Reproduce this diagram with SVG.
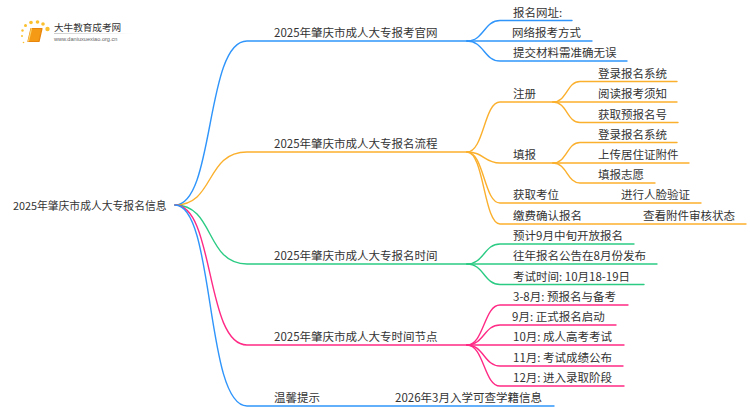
<svg xmlns="http://www.w3.org/2000/svg" width="750" height="410" viewBox="0 0 750 410">
<style>
text{font-family:"Noto Sans CJK SC","Noto Sans",sans-serif;font-size:11.5px;fill:#333}
path{fill:none;stroke-width:1.4;stroke-linecap:round}
.b{stroke:#2f95fb}.o{stroke:#fbb02d}.g{stroke:#2bcb84}.p{stroke:#ff2a85}
.dot{fill:#fbc02d}
</style>
<defs><linearGradient id="fade"><stop offset="0" stop-color="#ccc"/><stop offset="1" stop-color="#fff"/></linearGradient></defs>
<rect width="750" height="410" fill="#fff"/>
<g id="logo">
<circle class="dot" cx="23.500" cy="42.500" r="0.800"/><circle class="dot" cx="22" cy="36" r="1"/><circle class="dot" cx="22.500" cy="30.500" r="1.200"/><circle class="dot" cx="25.500" cy="25.500" r="1.500"/><circle class="dot" cx="31" cy="22.500" r="1.800"/><circle class="dot" cx="37.500" cy="22" r="1.800"/><circle class="dot" cx="43" cy="24" r="1.800"/><circle class="dot" cx="47.500" cy="29" r="2.200"/>
<path d="M31 28.500H42L39 41.500H28Z" style="fill:#f59a14;stroke:#e8850c;stroke-width:1.200;stroke-linejoin:round"/>
<path d="M28.500 41L31.500 28.500" style="stroke:#fbd36a;stroke-width:1.200"/>
<rect x="54" y="33" width="78" height="1" fill="url(#fade)"/>
<text x="54" y="31" style="font-size:9.600px">大牛教育成考网</text>
<text x="54" y="41" style="font-size:5.600px;fill:#666;font-family:'Liberation Sans',sans-serif">www.daniuxuexiao.org.cn</text>
</g>
<g id="connectors">
<path class="b" d="M175 205C215 205 205 41 247 41H467"/>
<path class="o" d="M175 205C215 205 205 152 247 152H467"/>
<path class="g" d="M175 205C215 205 205 264 247 264H467"/>
<path class="p" d="M175 205C215 205 205 345 247 345H467"/>
<path class="b" d="M175 205C215 205 205 406 247 406H554"/>
<path class="b" d="M467 41C484 41 484 20.500 500 20.500H572"/>
<path class="b" d="M467 41H592"/>
<path class="b" d="M467 41C484 41 484 61 500 61H627"/>
<path class="o" d="M467 152C484 152 484 102 500 102H553"/>
<path class="o" d="M467 152C484 152 484 163 500 163H553"/>
<path class="o" d="M467 152C484 152 484 203 500 203H701"/>
<path class="o" d="M467 152C484 152 484 224 500 224H746"/>
<path class="o" d="M553 102C567 102 567 81.500 580 81.500H677"/>
<path class="o" d="M553 102H677"/>
<path class="o" d="M553 102C567 102 567 122.500 580 122.500H678"/>
<path class="o" d="M553 163C567 163 567 142.500 580 142.500H677"/>
<path class="o" d="M553 163H689"/>
<path class="o" d="M553 163C567 163 567 183 580 183H655"/>
<path class="g" d="M467 264C484 264 484 244 500 244H634"/>
<path class="g" d="M467 264H657"/>
<path class="g" d="M467 264C484 264 484 284.500 500 284.500H644"/>
<path class="p" d="M467 345C484 345 484 305 500 305H628"/>
<path class="p" d="M467 345C484 345 484 325 500 325H616"/>
<path class="p" d="M467 345H624"/>
<path class="p" d="M467 345C484 345 484 366 500 366H623"/>
<path class="p" d="M467 345C484 345 484 386 500 386H624"/>
</g>
<g id="root"><text x="13" y="209.500" style="font-size:10.800px">2025年肇庆市成人大专报名信息</text></g>
<g id="n1"><text x="274" y="36.500">2025年肇庆市成人大专报考官网</text></g>
<g id="n1a"><text x="513" y="16.500">报名网址:</text></g>
<g id="n1b"><text x="512" y="37">网络报考方式</text></g>
<g id="n1c"><text x="513" y="57">提交材料需准确无误</text></g>
<g id="n2"><text x="274" y="148">2025年肇庆市成人大专报名流程</text></g>
<g id="n2a"><text x="513" y="98">注册</text></g>
<g id="n2a1"><text x="598" y="77.500">登录报名系统</text></g>
<g id="n2a2"><text x="598" y="98">阅读报考须知</text></g>
<g id="n2a3"><text x="598" y="118.500">获取预报名号</text></g>
<g id="n2b"><text x="513" y="159">填报</text></g>
<g id="n2b1"><text x="598" y="138.500">登录报名系统</text></g>
<g id="n2b2"><text x="598" y="159">上传居住证附件</text></g>
<g id="n2b3"><text x="598" y="179">填报志愿</text></g>
<g id="n2c"><text x="513" y="199">获取考位</text></g>
<g id="n2c1"><text x="621" y="199">进行人脸验证</text></g>
<g id="n2d"><text x="513" y="220">缴费确认报名</text></g>
<g id="n2d1"><text x="643" y="220">查看附件审核状态</text></g>
<g id="n3"><text x="274" y="260">2025年肇庆市成人大专报名时间</text></g>
<g id="n3a"><text x="513" y="240">预计9月中旬开放报名</text></g>
<g id="n3b"><text x="513" y="260">往年报名公告在8月份发布</text></g>
<g id="n3c"><text x="513" y="280.500">考试时间: 10月18-19日</text></g>
<g id="n4"><text x="274" y="341">2025年肇庆市成人大专时间节点</text></g>
<g id="n4a"><text x="513" y="301">3-8月: 预报名与备考</text></g>
<g id="n4b"><text x="512" y="321">9月: 正式报名启动</text></g>
<g id="n4c"><text x="513" y="341">10月: 成人高考考试</text></g>
<g id="n4d"><text x="513" y="362">11月: 考试成绩公布</text></g>
<g id="n4e"><text x="513" y="382">12月: 进入录取阶段</text></g>
<g id="n5"><text x="274" y="402">温馨提示</text></g>
<g id="n5a"><text x="395" y="402">2026年3月入学可查学籍信息</text></g>
</svg>
